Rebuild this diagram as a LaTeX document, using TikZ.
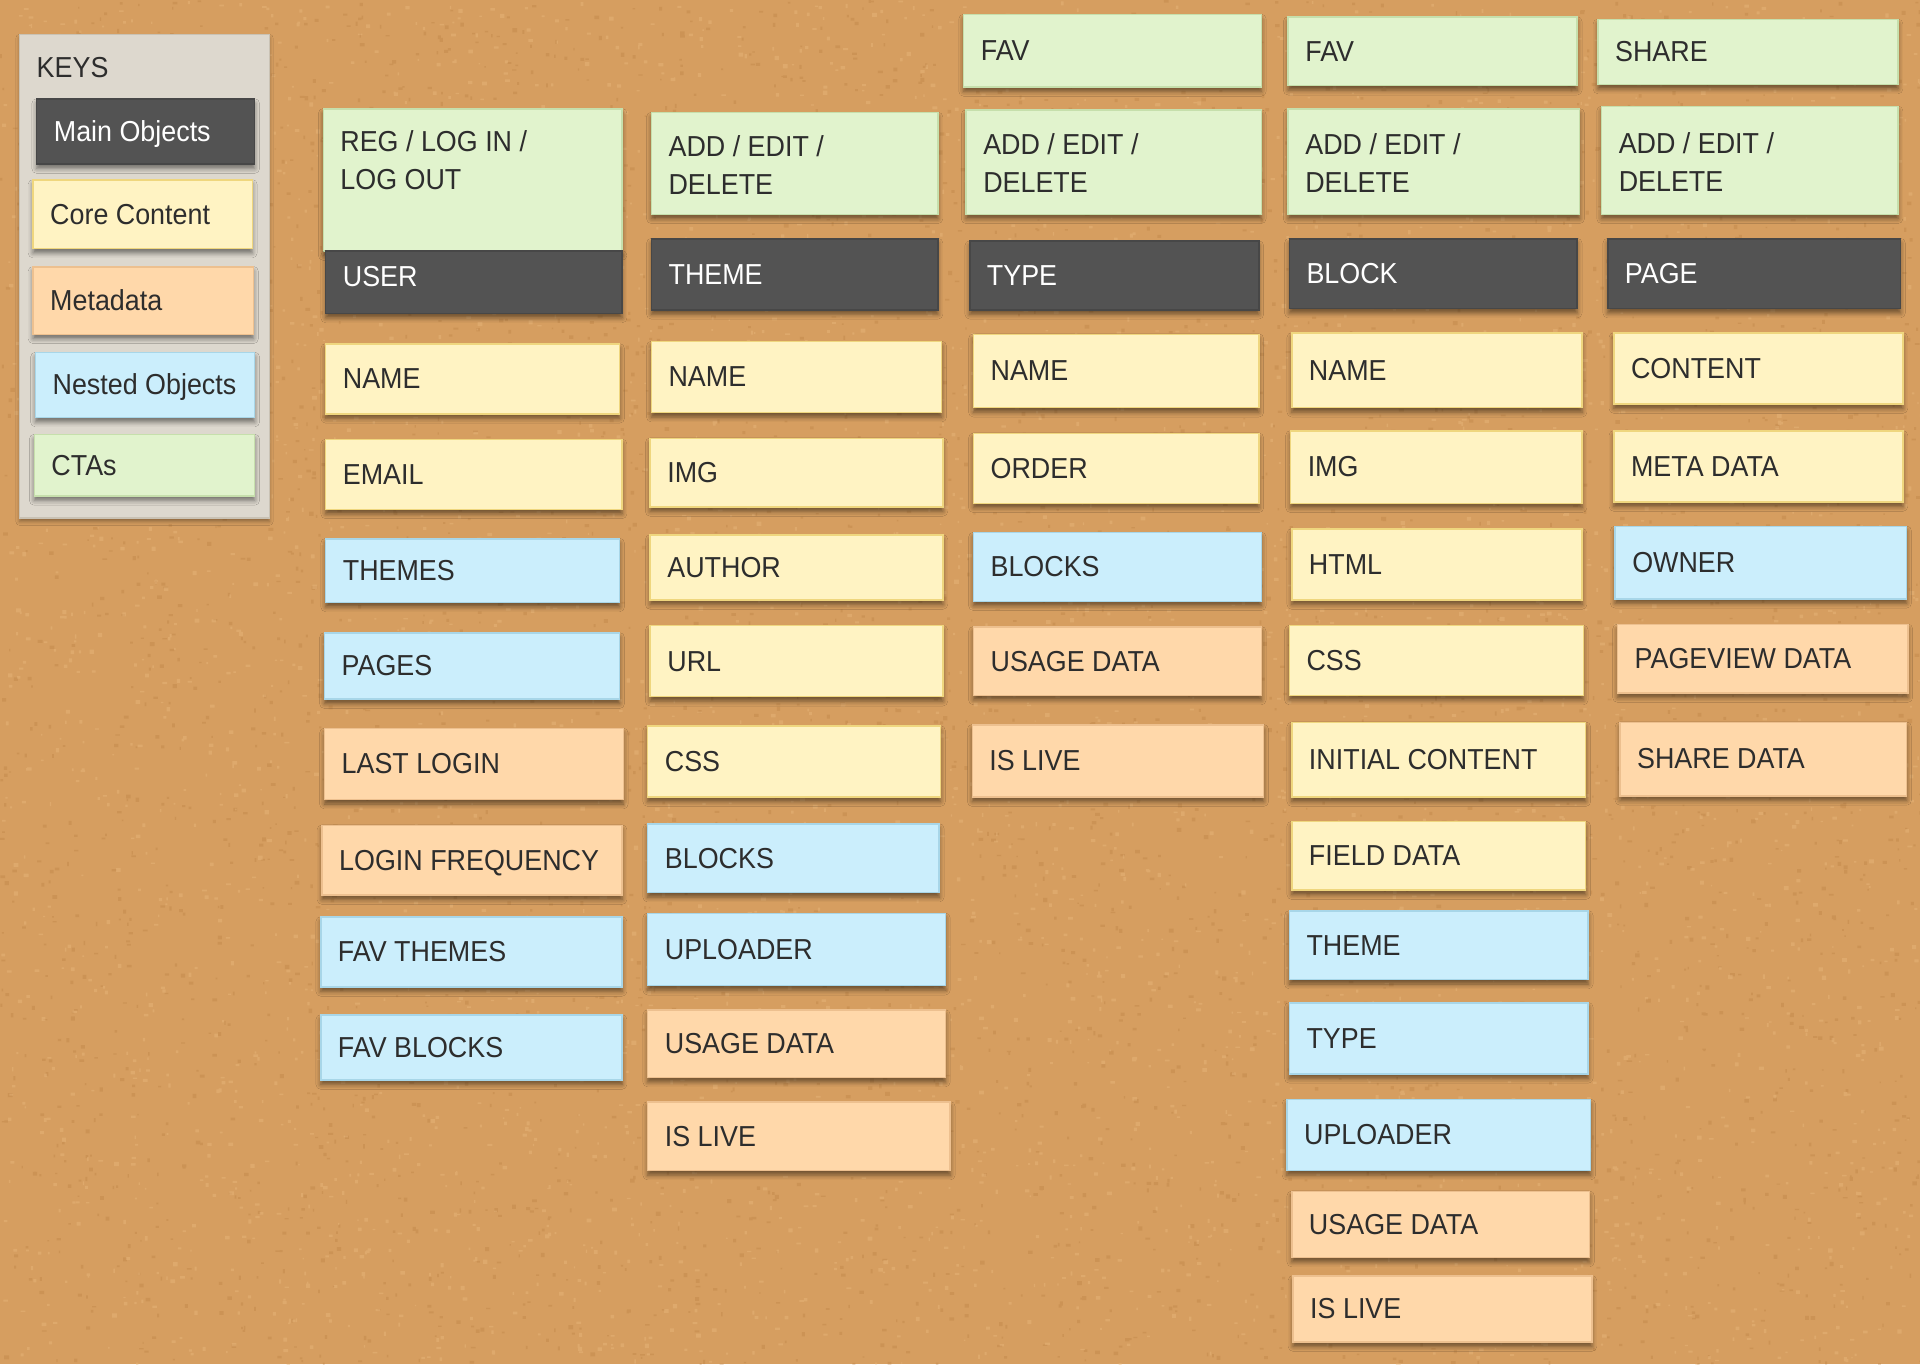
\documentclass[tikz,border=0pt]{standalone}
\usepackage{fontspec}
\setmainfont{Liberation Sans}[FakeStretch=0.93]
\usetikzlibrary{shadows.blur}
\definecolor{cork}{HTML}{D69E60}
\definecolor{corkdark}{HTML}{B07438}
\definecolor{corklight}{HTML}{ECBC82}
\definecolor{keybg}{HTML}{DDD8CE}
\definecolor{keyline}{HTML}{C9C2B4}
\definecolor{darkfill}{HTML}{535353}
\definecolor{yelfill}{HTML}{FFF3C3}
\definecolor{yelline}{HTML}{EFD67E}
\definecolor{peafill}{HTML}{FFD8AA}
\definecolor{pealine}{HTML}{EDC08F}
\definecolor{blufill}{HTML}{CBEEFC}
\definecolor{bluline}{HTML}{A8D6E8}
\definecolor{grefill}{HTML}{E1F3CD}
\definecolor{greline}{HTML}{C6DFAC}
\definecolor{inktext}{HTML}{2D2D2D}
\tikzset{
  sticky/.style={rectangle, inner sep=0pt, outer sep=0pt, line width=0.6pt,
    blur shadow={shadow xshift=0pt, shadow yshift=-1.8pt, shadow blur radius=2pt, shadow opacity=50}},
  main/.style={sticky, fill=darkfill, draw=darkfill!85!black},
  core/.style={sticky, fill=yelfill, draw=yelline},
  meta/.style={sticky, fill=peafill, draw=pealine},
  nest/.style={sticky, fill=blufill, draw=bluline},
  cta/.style={sticky, fill=grefill, draw=greline},
  txt/.style={inner sep=0pt, outer sep=0pt, text=inktext, align=left,
    font=\fontsize{11.8}{15.5}\selectfont},
  maintxt/.style={text=white},
  coretxt/.style={}, metatxt/.style={}, nesttxt/.style={}, ctatxt/.style={},
}
% base anchor of a multi-line node is the baseline of its last line
\newcommand\stickat[8]{%
  \node[#2, minimum width={(#5-#3)*0.5pt}, minimum height={(#6-#4)*0.5pt}] (#1) at ({(#3+#5)/2},{(#4+#6)/2}) {};
  \node[txt, #2txt, anchor=base west] (#1-t) at ({#3+14},{#7}) {#8};}
\newcommand\stick[7]{\stickat{#1}{#2}{#3}{#4}{#5}{#6}{(#4+#6)/2+8}{#7}}
\newcommand\sticktwo[7]{\stickat{#1}{#2}{#3}{#4}{#5}{#6}{(#4+#6)/2+25}{#7}}
\begin{document}
\begin{tikzpicture}[x=0.5pt, y=-0.5pt]
\useasboundingbox (0,0) rectangle (1568,1114);
\fill[cork] (0,0) rectangle (1568,1114);
\pgfmathsetseed{7}
\fill[corkdark, opacity=0.25] foreach \i in {1,...,4500} { ({rnd*1568},{rnd*1114}) rectangle ++({1+rnd*3},{1+rnd*2.5}) };
\fill[corklight, opacity=0.38] foreach \i in {1,...,4500} { ({rnd*1568},{rnd*1114}) rectangle ++({1+rnd*3},{1+rnd*2.5}) };

% keys panel
\node[rectangle, fill=keybg, draw=keyline, line width=0.6pt, inner sep=0pt,
  minimum width=102pt, minimum height=197.5pt,
  blur shadow={shadow xshift=0pt, shadow yshift=-1.5pt, shadow blur radius=1.5pt, shadow opacity=35}] (keys) at (118,225.5) {};
\node[txt, anchor=base west] (keys-t) at (30,63) {KEYS};
\stick{k1}{main}{30}{81}{208}{134}{Main Objects}
\stick{k2}{core}{27}{147}{206}{203}{Core Content}
\stick{k3}{meta}{27}{218}{207}{273}{Metadata}
\stick{k4}{nest}{29}{288}{208}{341}{Nested Objects}
\stick{k5}{cta}{28}{355}{208}{405}{CTAs}

% USER column
\stickat{u0}{cta}{264}{89}{508}{205}{155}{REG / LOG IN /\\LOG OUT}
\stickat{u1}{main}{266}{205}{508}{256}{234}{USER}
\stick{u2}{core}{266}{281}{506}{338}{NAME}
\stick{u3}{core}{266}{359}{508}{416}{EMAIL}
\stick{u4}{nest}{266}{440}{506}{492}{THEMES}
\stick{u5}{nest}{265}{517}{506}{571}{PAGES}
\stick{u6}{meta}{265}{595}{509}{653}{LAST LOGIN}
\stick{u7}{meta}{263}{674}{508}{731}{LOGIN FREQUENCY}
\stick{u8}{nest}{262}{749}{508}{806}{FAV THEMES}
\stick{u9}{nest}{262}{829}{508}{882}{FAV BLOCKS}

% THEME column
\sticktwo{t0}{cta}{532}{92}{766}{175}{ADD / EDIT /\\DELETE}
\stick{t1}{main}{532}{195}{766}{253}{THEME}
\stick{t2}{core}{532}{279}{769}{337}{NAME}
\stick{t3}{core}{531}{358}{770}{414}{IMG}
\stick{t4}{core}{531}{437}{770}{490}{AUTHOR}
\stick{t5}{core}{531}{511}{770}{569}{URL}
\stick{t6}{core}{529}{593}{768}{651}{CSS}
\stick{t7}{nest}{529}{673}{767}{729}{BLOCKS}
\stick{t8}{nest}{529}{746}{772}{805}{UPLOADER}
\stick{t9}{meta}{529}{825}{772}{880}{USAGE DATA}
\stick{t10}{meta}{529}{900}{776}{956}{IS LIVE}

% TYPE column
\stick{y0}{cta}{787}{12}{1030}{71}{FAV}
\sticktwo{y1}{cta}{789}{90}{1030}{175}{ADD / EDIT /\\DELETE}
\stick{y2}{main}{792}{197}{1028}{253}{TYPE}
\stick{y3}{core}{795}{273}{1028}{333}{NAME}
\stick{y4}{core}{795}{354}{1028}{411}{ORDER}
\stick{y5}{nest}{795}{435}{1030}{491}{BLOCKS}
\stick{y6}{meta}{795}{512}{1030}{568}{USAGE DATA}
\stick{y7}{meta}{794}{592}{1032}{651}{IS LIVE}

% BLOCK column
\stick{b0}{cta}{1052}{14}{1288}{70}{FAV}
\sticktwo{b1}{cta}{1052}{89}{1290}{175}{ADD / EDIT /\\DELETE}
\stick{b2}{main}{1053}{195}{1288}{252}{BLOCK}
\stick{b3}{core}{1055}{272}{1292}{333}{NAME}
\stick{b4}{core}{1054}{352}{1292}{411}{IMG}
\stick{b5}{core}{1055}{432}{1292}{490}{HTML}
\stick{b6}{core}{1053}{511}{1293}{568}{CSS}
\stick{b7}{core}{1055}{590}{1295}{651}{INITIAL CONTENT}
\stick{b8}{core}{1055}{671}{1295}{727}{FIELD DATA}
\stick{b9}{nest}{1053}{744}{1297}{800}{THEME}
\stick{b10}{nest}{1053}{819}{1297}{877}{TYPE}
\stick{b11}{nest}{1051}{898}{1299}{956}{UPLOADER}
\stick{b12}{meta}{1055}{973}{1298}{1027}{USAGE DATA}
\stick{b13}{meta}{1056}{1042}{1300}{1096}{IS LIVE}

% PAGE column
\stick{p0}{cta}{1305}{16}{1550}{69}{SHARE}
\sticktwo{p1}{cta}{1308}{87}{1550}{175}{ADD / EDIT /\\DELETE}
\stick{p2}{main}{1313}{195}{1552}{252}{PAGE}
\stick{p3}{core}{1318}{272}{1554}{330}{CONTENT}
\stick{p4}{core}{1318}{352}{1554}{410}{META DATA}
\stick{p5}{nest}{1319}{430}{1557}{489}{OWNER}
\stick{p6}{meta}{1321}{510}{1558}{566}{PAGEVIEW DATA}
\stick{p7}{meta}{1323}{590}{1557}{650}{SHARE DATA}
\end{tikzpicture}
\end{document}
